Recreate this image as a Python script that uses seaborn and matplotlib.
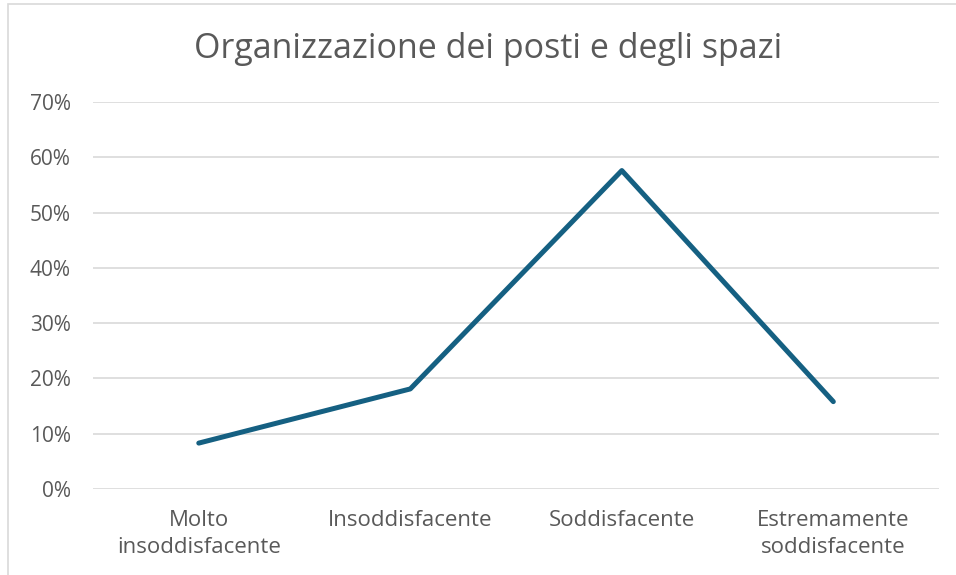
import numpy as np
import pandas as pd
import seaborn as sns
import matplotlib.pyplot as plt
from matplotlib.patches import Rectangle
from matplotlib.ticker import PercentFormatter

sns.set_style("white")
plt.rcParams['font.family'] = ['Open Sans', 'DejaVu Sans']

categories = ["Molto\ninsoddisfacente", "Insoddisfacente", "Soddisfacente", "Estremamente\nsoddisfacente"]
values = [0.083, 0.181, 0.576, 0.158]

df = pd.DataFrame({"cat": categories, "val": values})

fig = plt.figure(figsize=(9.56, 5.75), dpi=100)
ax = fig.add_axes([0.0973, 0.1496, 0.8850, 0.6730])

sns.lineplot(data=df, x="cat", y="val", ax=ax, color="#156082", linewidth=3.6,
             solid_capstyle="round", solid_joinstyle="round", sort=False)

ax.set_xlim(-0.5, 3.5)
ax.set_ylim(0, 0.7)
ax.set_yticks(np.arange(0, 0.71, 0.1))
ax.yaxis.set_major_formatter(PercentFormatter(1.0, decimals=0))
ax.grid(axis="y", color="#d9d9d9", linewidth=1.2)
ax.set_axisbelow(True)
for s in ax.spines.values():
    s.set_visible(False)
ax.tick_params(axis="y", length=0, labelsize=15, colors="#595959", pad=16)
ax.tick_params(axis="x", length=0, labelsize=16, colors="#595959", pad=15)
for lbl in ax.get_xticklabels():
    lbl.set_linespacing(1.36)
ax.set_xlabel("")
ax.set_ylabel("")

fig.text(0.5105, 0.914, "Organizzazione dei posti e degli spazi", ha="center", va="center",
         fontsize=24.5, color="#595959")

fig.patches.append(Rectangle((8/956, -0.1), 1.2, 1 - 4/575 + 0.1, transform=fig.transFigure,
                             fill=False, edgecolor="#d9d9d9", linewidth=1.2))

fig.savefig("out.png", dpi=100)
